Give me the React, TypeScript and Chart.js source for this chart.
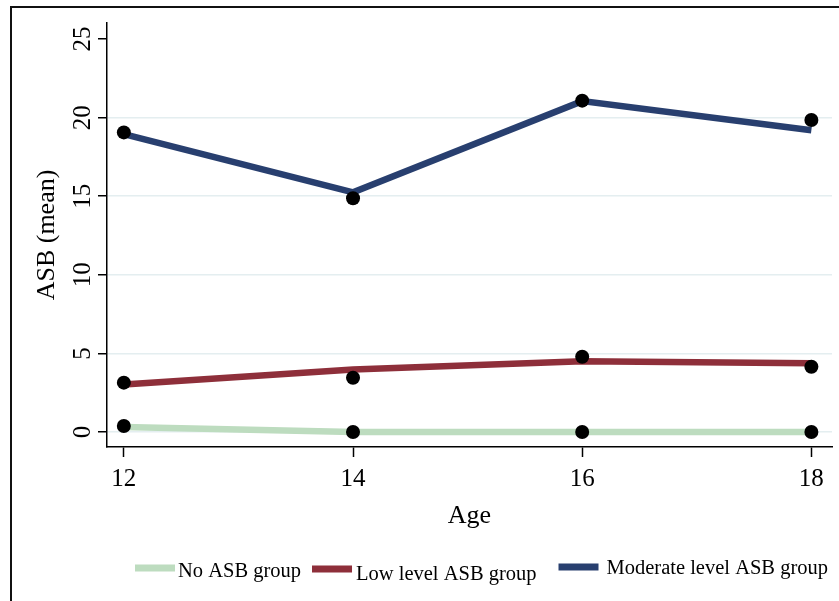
import React, { useEffect, useRef } from "react";
import { Chart, registerables } from "chart.js";

Chart.register(...registerables);

const ages = [12, 14, 16, 18];
const xTicks = [12, 14, 16, 18];
const yTicks = [0, 5, 10, 15, 20, 25];

const noLine = [0.32, 0, 0, 0];
const noDots = [0.38, 0, 0, 0];
const lowLine = [3.02, 3.98, 4.5, 4.37];
const lowDots = [3.14, 3.45, 4.79, 4.15];
const modLine = [18.95, 15.25, 21.05, 19.2];
const modDots = [19.06, 14.87, 21.08, 19.85];

const seriesNames = ["No ASB group", "Low level ASB group", "Moderate level ASB group"];
const seriesColors = ["#bddcbf", "#8e2f3a", "#283f6f"];
const xTitle = "Age";
const yTitle = "ASB (mean)";

const FONT = "'Liberation Serif', 'Times New Roman', serif";

const decorPlugin = {
  id: "decor",
  afterDraw(chart: any) {
    const ctx = chart.ctx as CanvasRenderingContext2D;
    const area = chart.chartArea;
    const ys = chart.scales.y;
    ctx.save();
    // outer frame
    ctx.strokeStyle = "#111";
    ctx.lineWidth = 2;
    ctx.beginPath();
    ctx.moveTo(11, 601);
    ctx.lineTo(11, 7);
    ctx.lineTo(839, 7);
    ctx.stroke();

    ctx.fillStyle = "#000";
    // y tick labels (rotated)
    ctx.font = `25px ${FONT}`;
    ctx.textAlign = "center";
    ctx.textBaseline = "alphabetic";
    for (const v of yTicks) {
      const py = ys.getPixelForValue(v);
      ctx.save();
      ctx.translate(90, py);
      ctx.rotate(-Math.PI / 2);
      ctx.fillText(String(v), 0, 0);
      ctx.restore();
    }
    // y title
    ctx.font = `26px ${FONT}`;
    ctx.save();
    ctx.translate(54, (area.top + area.bottom) / 2);
    ctx.rotate(-Math.PI / 2);
    ctx.fillText(yTitle, 0, 0);
    ctx.restore();
    // x title
    ctx.fillText(xTitle, (area.left + area.right) / 2, 523);

    // legend
    ctx.font = `20.5px ${FONT}`;
    ctx.textAlign = "left";
    const gapsAfterLine = [3, 4, 8];
    const gapsAfterText = [11, 22, 0];
    const lineYs = [568, 569, 567];
    const baseYs = [577, 580, 574];
    let x = 135;
    seriesNames.forEach((name, i) => {
      ctx.fillStyle = seriesColors[i];
      ctx.fillRect(x, lineYs[i] - 3.5, 40, 7);
      x += 40 + gapsAfterLine[i];
      ctx.fillStyle = "#000";
      ctx.fillText(name, x, baseYs[i]);
      x += ctx.measureText(name).width + gapsAfterText[i];
    });
    ctx.restore();
  },
};

export default function App() {
  const ref = useRef<HTMLCanvasElement | null>(null);

  useEffect(() => {
    const canvas = ref.current;
    if (!canvas) return;
    const pts = (arr: number[]) => ages.map((a, i) => ({ x: a, y: arr[i] }));
    const lineDs = (arr: number[], i: number) => ({
      type: "line" as const,
      label: seriesNames[i],
      data: pts(arr),
      borderColor: seriesColors[i],
      backgroundColor: seriesColors[i],
      borderWidth: 6.5,
      pointRadius: 0,
      tension: 0,
      borderCapStyle: "butt" as const,
      order: 1,
    });
    const dotDs = (arr: number[]) => ({
      type: "line" as const,
      label: "obs",
      data: pts(arr),
      showLine: false,
      pointRadius: 7,
      pointBackgroundColor: "#000",
      pointBorderColor: "#000",
      pointBorderWidth: 0,
      order: 0,
    });
    const chart = new Chart(canvas, {
      type: "line",
      data: {
        datasets: [
          lineDs(noLine, 0),
          lineDs(lowLine, 1),
          lineDs(modLine, 2),
          dotDs(noDots),
          dotDs(lowDots),
          dotDs(modDots),
        ],
      },
      options: {
        responsive: false,
        animation: false,
        devicePixelRatio: 1,
        layout: { padding: { left: 0, right: 0, top: 23, bottom: 0 } },
        plugins: {
          legend: { display: false },
          tooltip: { enabled: false },
        },
        scales: {
          x: {
            type: "linear",
            min: 11.853,
            max: 18.18,
            afterBuildTicks: (s: any) => {
              s.ticks = xTicks.map((v) => ({ value: v }));
            },
            afterFit: (s: any) => {
              s.height = 154;
            },
            grid: {
              drawOnChartArea: false,
              drawTicks: true,
              tickLength: 10,
              tickColor: "#000",
              tickWidth: 1.5,
            },
            border: { display: true, color: "#000", width: 1.5 },
            ticks: {
              font: { family: FONT, size: 25 },
              color: "#000",
              padding: 7,
              minRotation: 0,
              maxRotation: 0,
              callback: (v: any) => String(v),
            },
          },
          y: {
            type: "linear",
            min: -0.954,
            max: 26.02,
            afterBuildTicks: (s: any) => {
              s.ticks = yTicks.map((v) => ({ value: v }));
            },
            afterFit: (s: any) => {
              s.width = 107;
            },
            grid: {
              color: (c: any) => (c.tick && c.tick.value === 25 ? "rgba(0,0,0,0)" : "#e4eef0"),
              lineWidth: 1.5,
              drawTicks: true,
              tickLength: 9,
              tickColor: "#000",
              tickWidth: 1.5,
            },
            border: { display: true, color: "#000", width: 1.5 },
            ticks: { display: false },
          },
        },
      },
      plugins: [decorPlugin],
    } as any);
    return () => chart.destroy();
  }, []);

  return (
    <div style={{ position: "fixed", left: 0, top: 0, width: 839, height: 601, background: "#fff" }}>
      <canvas ref={ref} width={839} height={601} style={{ display: "block" }} />
    </div>
  );
}
